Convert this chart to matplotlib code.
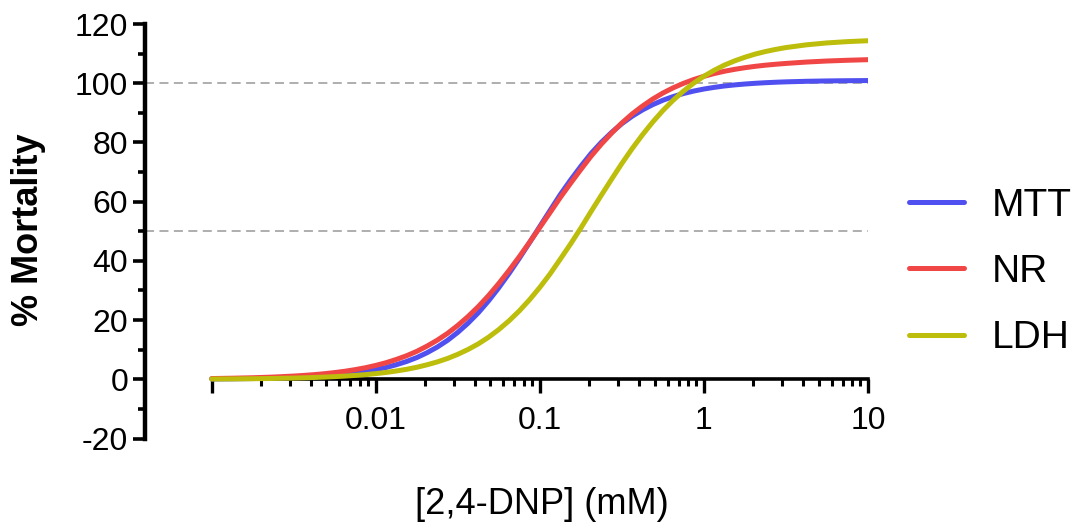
import matplotlib.pyplot as plt
from matplotlib.ticker import FixedLocator, FixedFormatter, NullFormatter

plt.rcParams['font.family'] = ['Liberation Sans', 'DejaVu Sans']
plt.rcParams['axes.unicode_minus'] = False

# dose (mM) (finer steps where the curves bend)
dose = [0.001, 0.00133, 0.00178, 0.00237, 0.00316, 0.00365, 0.00422, 0.00487,
        0.00562, 0.00649, 0.0075, 0.00866, 0.01, 0.01155, 0.0133, 0.0154,
        0.0178, 0.0205, 0.0237, 0.0274, 0.0316, 0.0365, 0.0422, 0.0487,
        0.0562, 0.0649, 0.075, 0.0866, 0.1, 0.1155, 0.133, 0.154,
        0.178, 0.205, 0.237, 0.274, 0.316, 0.365, 0.422, 0.487,
        0.562, 0.649, 0.75, 0.866, 1, 1.155, 1.33, 1.54,
        1.78, 2.05, 2.37, 2.74, 3.16, 4.22, 5.62, 7.5, 10]

mtt = [0.1, 0.16, 0.25, 0.39, 0.59, 0.73, 0.91, 1.12,
       1.39, 1.72, 2.13, 2.62, 3.24, 3.98, 4.90, 6.01,
       7.35, 8.96, 10.89, 13.17, 15.85, 18.95, 22.50, 26.50,
       30.92, 35.74, 40.87, 46.20, 51.65, 57.06, 62.33, 67.33,
       71.99, 76.25, 80.05, 83.41, 86.33, 88.84, 90.97, 92.75,
       94.25, 95.49, 96.51, 97.35, 98.04, 98.60, 99.06, 99.43,
       99.73, 99.97, 100.17, 100.33, 100.46, 100.65, 100.77, 100.85, 100.90]

nr = [0.25, 0.36, 0.52, 0.75, 1.09, 1.31, 1.57, 1.89,
      2.27, 2.72, 3.27, 3.91, 4.69, 5.60, 6.68, 7.95,
      9.45, 11.19, 13.21, 15.53, 18.19, 21.20, 24.57, 28.29,
      32.37, 36.76, 41.43, 46.31, 51.31, 56.35, 61.35, 66.23,
      70.91, 75.33, 79.43, 83.18, 86.57, 89.61, 92.28, 94.64,
      96.68, 98.44, 99.95, 101.24, 102.33, 103.26, 104.03, 104.69,
      105.24, 105.70, 106.09, 106.41, 106.68, 107.15, 107.50, 107.75, 107.95]

ldh = [0.09, 0.13, 0.19, 0.28, 0.41, 0.50, 0.61, 0.74,
       0.89, 1.08, 1.31, 1.58, 1.91, 2.31, 2.79, 3.37,
       4.06, 4.89, 5.87, 7.04, 8.43, 10.07, 11.98, 14.22,
       16.80, 19.76, 23.12, 26.89, 31.06, 35.62, 40.53, 45.73,
       51.13, 56.65, 62.18, 67.63, 72.89, 77.89, 82.57, 86.86,
       90.76, 94.24, 97.32, 100.02, 102.36, 104.37, 106.09, 107.55,
       108.79, 109.83, 110.70, 111.43, 112.04, 112.97, 113.61, 114.05, 114.35]

series = ['MTT', 'NR', 'LDH']
colors = ['#5050F0', '#F04646', '#BDBD0C']

ref_lines = [100, 50]
y_major = [-20, 0, 20, 40, 60, 80, 100, 120]
y_minor = [-10, 10, 30, 50, 70, 90, 110]
x_major = [0.001, 0.01, 0.1, 1, 10]
x_labels = ['', '0.01', '0.1', '1', '10']
x_minor = [m * d for d in [0.001, 0.01, 0.1, 1] for m in range(2, 10)]

fig = plt.figure(figsize=(10.78, 5.26), dpi=100)
ax = fig.add_axes([145 / 1078, 1 - 438.5 / 526, (868 - 145) / 1078, (438.5 - 24) / 526])

for yv in ref_lines:
    ax.axhline(yv, color='#a8a8a8', lw=1.3, ls=(0, (5, 3)), zorder=1)

for name, vals, c in zip(series, [mtt, nr, ldh], colors):
    ax.plot(dose, vals, color=c, lw=3.6, label=name, solid_capstyle='round',
            solid_joinstyle='round', zorder=3)

ax.set_xscale('log')
ax.set_xlim(0.000392, 10)
ax.set_ylim(-20, 120)

for s in ['top', 'right']:
    ax.spines[s].set_visible(False)
ax.spines['left'].set_linewidth(3.2)
ax.spines['left'].set_bounds(-20, 120)
ax.spines['bottom'].set_position(('data', 0))
ax.spines['bottom'].set_bounds(0.001, 10)
ax.spines['bottom'].set_linewidth(2.6)

ax.yaxis.set_major_locator(FixedLocator(y_major))
ax.yaxis.set_minor_locator(FixedLocator(y_minor))
ax.xaxis.set_major_locator(FixedLocator(x_major))
ax.xaxis.set_major_formatter(FixedFormatter(x_labels))
ax.xaxis.set_minor_locator(FixedLocator(x_minor))
ax.xaxis.set_minor_formatter(NullFormatter())

ax.tick_params(axis='y', which='major', length=9, width=2.6, labelsize=23, pad=3)
ax.tick_params(axis='y', which='minor', length=5, width=2.6)
ax.tick_params(axis='x', which='major', length=10, width=2.4, labelsize=23, pad=9)
ax.tick_params(axis='x', which='minor', length=5, width=2.2)

fig.text(542 / 1078, 1 - 505 / 526, '[2,4-DNP] (mM)', fontsize=26, ha='center', va='center')
fig.text(28 / 1078, 1 - 230 / 526, '% Mortality', fontsize=26, fontweight='bold',
         rotation=90, ha='center', va='center')

ax.legend(loc='center left', bbox_to_anchor=(909 / 1078, 1 - 272 / 526),
          bbox_transform=fig.transFigure, frameon=False, fontsize=28,
          handlelength=1.42, handletextpad=0.72, labelspacing=0.78, borderaxespad=0,
          borderpad=0)

fig.savefig('out.png', dpi=100)
